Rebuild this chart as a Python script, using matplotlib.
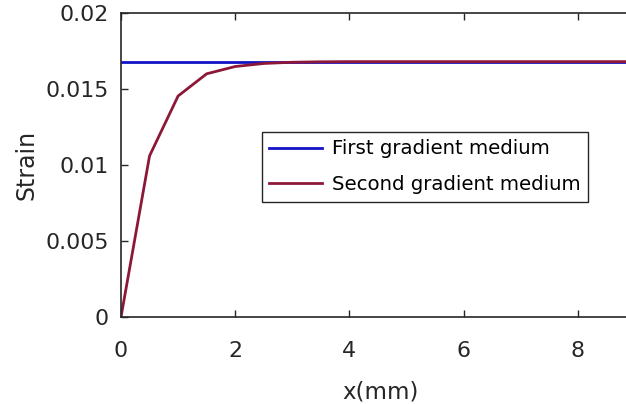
import matplotlib
matplotlib.use("Agg")
import matplotlib.pyplot as plt

plt.rcParams['font.family'] = ['DejaVu Sans']

x_first = [0, 10]
strain_first = [0.0168, 0.0168]

x_second = [0, 0.5, 1.0, 1.5, 2.0, 2.5, 3.0, 3.5, 4.0, 5.0, 6.0, 7.0, 8.0, 9.0, 10.0]
strain_second = [0.0, 0.0106, 0.01454, 0.01600, 0.01648, 0.01668, 0.01676, 0.01679, 0.0168,
                 0.0168, 0.0168, 0.0168, 0.0168, 0.0168, 0.0168]

xticks = [0, 2, 4, 6, 8]
yticks = [0, 0.005, 0.01, 0.015, 0.02]
yticklabels = ['0', '0.005', '0.01', '0.015', '0.02']

x_max = 9.1
px_per_unit = 57.1

fig = plt.figure(figsize=(6.26, 4.04), dpi=100)
ax = fig.add_axes([121/626, 1 - 317/404, x_max * px_per_unit / 626, 304/404])

ax.plot(x_first, strain_first, color='#1414c8', lw=2.0, label='First gradient medium')
ax.plot(x_second, strain_second, color='#8c1838', lw=2.0, label='Second gradient medium')

ax.set_xlim(0, x_max)
ax.set_ylim(0, 0.02)
ax.set_xticks(xticks)
ax.set_yticks(yticks)
ax.set_yticklabels(yticklabels)
ax.tick_params(direction='in', length=5, width=1, top=True, right=True,
               labelsize=15.9, colors='#262626')
ax.tick_params(axis='x', pad=17.5)
ax.tick_params(axis='y', pad=9)
for s in ax.spines.values():
    s.set_linewidth(1.2)
    s.set_color('#262626')

ax.set_xlabel('x(mm)', fontsize=16.5, color='#262626', labelpad=14)
ax.set_ylabel('Strain', fontsize=17, color='#262626', labelpad=4.5)

leg = ax.legend(loc='upper left', bbox_to_anchor=(262/626, 1 - 132/404),
                bbox_transform=fig.transFigure, frameon=True, fancybox=False,
                framealpha=1, edgecolor='#262626', fontsize=14.2, handlelength=2.65,
                handletextpad=0.5, borderpad=0.38, labelspacing=0.85, borderaxespad=0)
leg.get_frame().set_linewidth(1.0)

fig.savefig('out.png', dpi=100)
